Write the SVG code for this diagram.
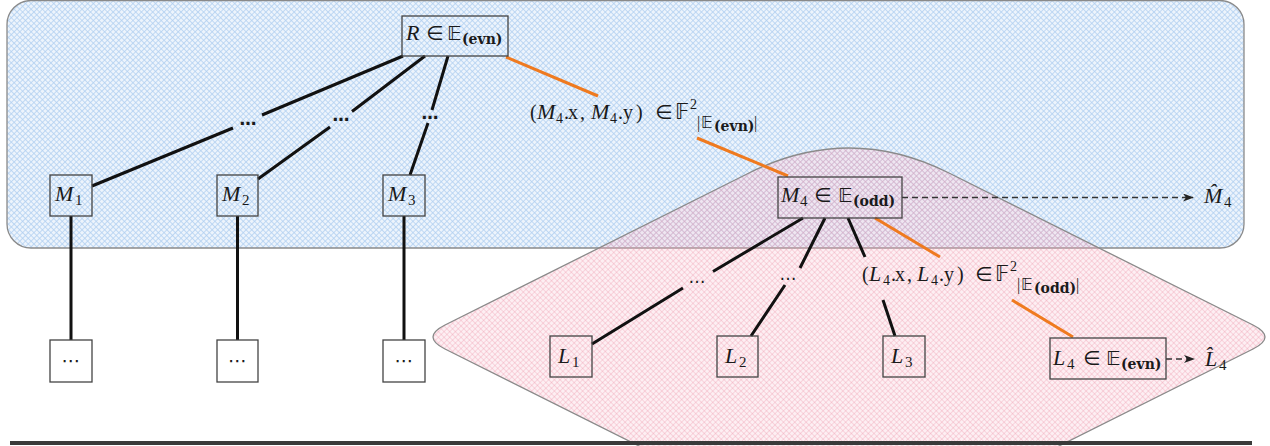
<svg xmlns="http://www.w3.org/2000/svg" width="1270" height="446" viewBox="0 0 1270 446">
<defs>
<pattern id="blueHatch" width="4" height="4" patternUnits="userSpaceOnUse" patternTransform="rotate(45)">
<rect width="4" height="4" fill="#edf4fc"/>
<path d="M0,0.5H4M0.5,0V4" stroke="#b0cff0" stroke-width="0.75"/>
</pattern>
<pattern id="pinkHatch" width="4" height="4" patternUnits="userSpaceOnUse" patternTransform="rotate(45)">
<rect width="4" height="4" fill="#f5b8c6" fill-opacity="0.22"/>
<path d="M0,0.5H4M0.5,0V4" stroke="#ec98ad" stroke-width="0.75" stroke-opacity="0.45"/>
</pattern>
<marker id="arr" markerWidth="12" markerHeight="10" refX="10" refY="4" orient="auto" markerUnits="userSpaceOnUse">
<path d="M0,0 L11,4 L0,8 L3,4 Z" fill="#222"/>
</marker>
<style>
.box{fill:none;stroke:#444;stroke-width:1.3}
.edge{stroke:#111;stroke-width:3;fill:none}
.orange{stroke:#ef7a1f;stroke-width:3;fill:none}
.dash{stroke:#333;stroke-width:1.4;stroke-dasharray:6 4;fill:none}
text{font-family:'Liberation Serif','DejaVu Serif','DejaVu Sans',serif;fill:#1a1a1a}
.it{font-style:italic}
.sub{font-family:'DejaVu Serif',serif;font-weight:bold}
.sym{font-family:'DejaVu Sans',sans-serif}
.dots{font-family:'DejaVu Sans',sans-serif}
</style>
</defs>

<g id="regions">
<rect id="region-even" x="7" y="0.5" width="1237" height="247.5" rx="24" fill="url(#blueHatch)" stroke="#8a8a8a" stroke-width="1.3"/>
<path id="region-odd" d="M445,325 Q421,337 445,349 L849,551 L1253,349 Q1277,337 1253,325 L949,173 Q849,123 749,173 Z" fill="url(#pinkHatch)" stroke="#8a8a8a" stroke-width="1.3"/>
</g>

<g id="connectors">
<path class="edge" d="M403,56 L262,115 M233,128 L92,186"/>
<path class="edge" d="M425,56 L352,111.5 M330,127 L258,179"/>
<path class="edge" d="M448,56 L432,110 M428,123 L410,175"/>
<path class="edge" d="M71,216 V340 M237.5,216 V340 M404,216 V340"/>
<path class="orange" d="M506,57 L598,96 M697,138 L788,176"/>
<path class="orange" d="M875,218 L940,257 M1012,300 L1073,337"/>
<path class="edge" d="M803,218 L713,271.5 M683,288 L592,344"/>
<path class="edge" d="M825,218 L800,268 M785,285 L751,336"/>
<path class="edge" d="M848,218 L865,257 M883,300 L895,336"/>
<path class="dash" d="M902,197.5 H1193" marker-end="url(#arr)"/>
<path class="dash" d="M1166,359 H1194" marker-end="url(#arr)"/>
<text class="dots" x="248" y="125" text-anchor="middle" font-size="17" font-weight="bold">…</text>
<text class="dots" x="341" y="121" text-anchor="middle" font-size="17" font-weight="bold">…</text>
<text class="dots" x="430" y="119" text-anchor="middle" font-size="17" font-weight="bold">…</text>
<text class="dots" x="697" y="283" text-anchor="middle" font-size="17">…</text>
<text class="dots" x="788" y="280" text-anchor="middle" font-size="17">…</text>
<text id="label-M4" y="119" font-size="20"><tspan x="530">(</tspan><tspan class="it" x="537" font-size="22">M</tspan><tspan x="556" y="123" font-size="14">4</tspan><tspan x="564" y="119">.</tspan><tspan x="568">x</tspan><tspan x="580">,</tspan><tspan class="it" x="591" font-size="22">M</tspan><tspan x="610" y="123" font-size="14">4</tspan><tspan x="618" y="119">.</tspan><tspan x="623">y</tspan><tspan x="636">)</tspan><tspan class="sym" x="655" font-size="20">∈</tspan><tspan class="sym" x="675" font-size="21">𝔽</tspan><tspan x="690" y="109" font-size="14">2</tspan><tspan x="697" y="128" font-size="16">|</tspan><tspan class="sym" x="701" font-size="16">𝔼</tspan><tspan class="sub" x="714" y="131" font-size="14">(evn)</tspan><tspan x="754" y="128" font-size="16">|</tspan></text>
<text id="label-L4" y="281" font-size="20"><tspan x="862">(</tspan><tspan class="it" x="869" font-size="22">L</tspan><tspan x="883" y="285" font-size="14">4</tspan><tspan x="891" y="281">.</tspan><tspan x="895">x</tspan><tspan x="907">,</tspan><tspan class="it" x="917" font-size="22">L</tspan><tspan x="931" y="285" font-size="14">4</tspan><tspan x="939" y="281">.</tspan><tspan x="944">y</tspan><tspan x="957">)</tspan><tspan class="sym" x="975" font-size="20">∈</tspan><tspan class="sym" x="995" font-size="21">𝔽</tspan><tspan x="1010" y="271" font-size="14">2</tspan><tspan x="1017" y="290" font-size="16">|</tspan><tspan class="sym" x="1021" font-size="16">𝔼</tspan><tspan class="sub" x="1034" y="293" font-size="14">(odd)</tspan><tspan x="1076" y="290" font-size="16">|</tspan></text>
</g>

<g id="node-R">
<rect class="box" x="402" y="16" width="106" height="40"/>
<text y="40" font-size="21"><tspan class="it" x="406" font-size="22">R</tspan><tspan class="sym" x="426" font-size="20">∈</tspan><tspan class="sym" x="447" font-size="20">𝔼</tspan><tspan class="sub" x="462" dy="4" font-size="14">(evn)</tspan></text>
</g>
<g id="node-M1">
<rect class="box" x="50" y="175" width="42" height="41"/>
<text y="201" font-size="22"><tspan class="it" x="55">M</tspan><tspan x="75" dy="4" font-size="15">1</tspan></text>
</g>
<g id="node-M2">
<rect class="box" x="217" y="175" width="41" height="41"/>
<text y="201" font-size="22"><tspan class="it" x="222">M</tspan><tspan x="242" dy="4" font-size="15">2</tspan></text>
</g>
<g id="node-M3">
<rect class="box" x="383" y="175" width="42" height="41"/>
<text y="201" font-size="22"><tspan class="it" x="388">M</tspan><tspan x="408" dy="4" font-size="15">3</tspan></text>
</g>
<g id="node-D1">
<rect class="box" x="50" y="340" width="42" height="42"/>
<text class="dots" x="71" y="367" text-anchor="middle" font-size="19">⋯</text>
</g>
<g id="node-D2">
<rect class="box" x="217" y="340" width="41" height="42"/>
<text class="dots" x="237.5" y="367" text-anchor="middle" font-size="19">⋯</text>
</g>
<g id="node-D3">
<rect class="box" x="383" y="340" width="42" height="42"/>
<text class="dots" x="404" y="367" text-anchor="middle" font-size="19">⋯</text>
</g>
<g id="node-M4">
<rect class="box" x="778" y="177" width="124" height="41"/>
<text y="202" font-size="22"><tspan class="it" x="781">M</tspan><tspan x="800" y="206" font-size="15">4</tspan><tspan class="sym" x="814" y="202" font-size="20">∈</tspan><tspan class="sym" x="838" font-size="20">𝔼</tspan><tspan class="sub" x="853" y="206" font-size="14">(odd)</tspan></text>
</g>
<g id="node-M4hat">
<text y="203" font-size="22"><tspan class="it" x="1204">M̂</tspan><tspan x="1224" dy="4" font-size="15">4</tspan></text>
</g>
<g id="node-L1">
<rect class="box" x="550" y="336" width="42" height="41"/>
<text y="363" font-size="22"><tspan class="it" x="558">L</tspan><tspan x="572" dy="4" font-size="15">1</tspan></text>
</g>
<g id="node-L2">
<rect class="box" x="717" y="336" width="41" height="41"/>
<text y="363" font-size="22"><tspan class="it" x="725">L</tspan><tspan x="739" dy="4" font-size="15">2</tspan></text>
</g>
<g id="node-L3">
<rect class="box" x="883" y="336" width="42" height="41"/>
<text y="363" font-size="22"><tspan class="it" x="891">L</tspan><tspan x="905" dy="4" font-size="15">3</tspan></text>
</g>
<g id="node-L4">
<rect class="box" x="1050" y="338" width="116" height="41"/>
<text y="365" font-size="22"><tspan class="it" x="1053">L</tspan><tspan x="1067" y="369" font-size="15">4</tspan><tspan class="sym" x="1083" y="365" font-size="20">∈</tspan><tspan class="sym" x="1106" font-size="20">𝔼</tspan><tspan class="sub" x="1121" y="369" font-size="14">(evn)</tspan></text>
</g>
<g id="node-L4hat">
<text y="366" font-size="22"><tspan class="it" x="1205">L̂</tspan><tspan x="1219" dy="4" font-size="15">4</tspan></text>
</g>

<rect id="baseline" x="10" y="441" width="1242" height="4" fill="#3a3a3a"/>
</svg>
